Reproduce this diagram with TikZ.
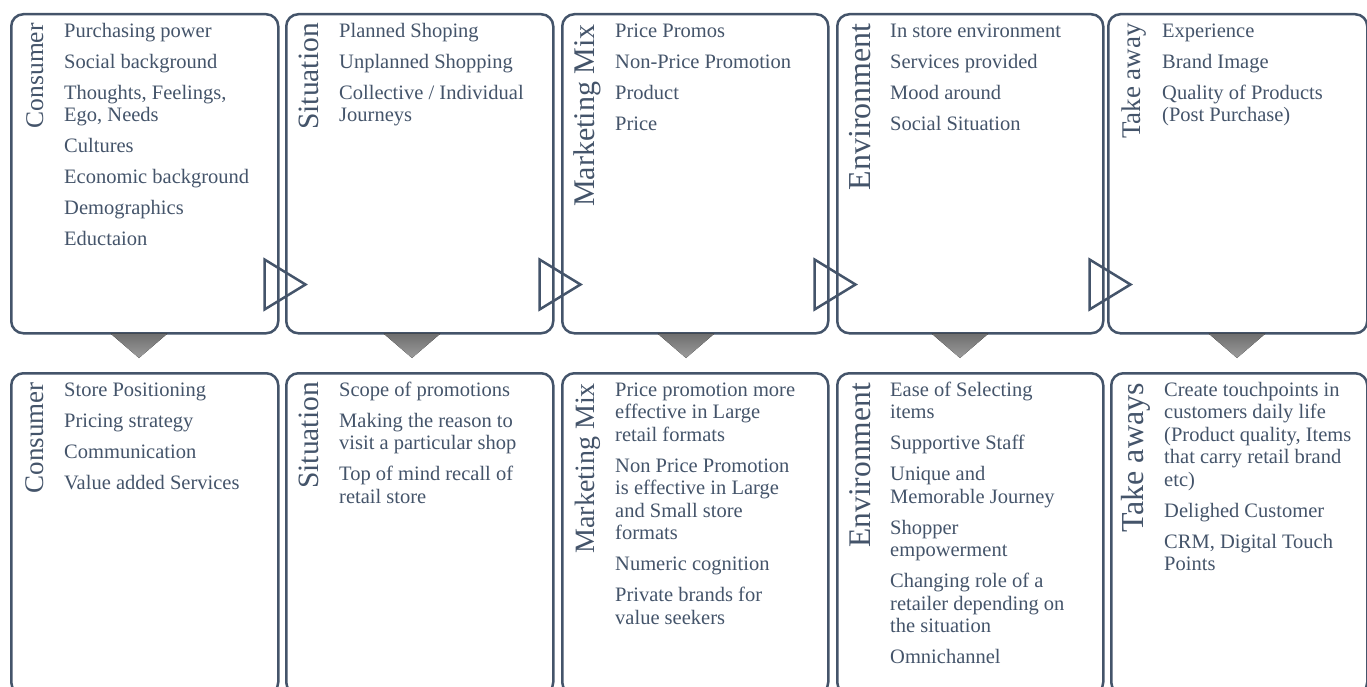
\documentclass[tikz,border=0pt]{standalone}
\usepackage{fontspec}
\setmainfont{Liberation Serif}
\usetikzlibrary{calc}
\definecolor{slate}{HTML}{44546A}
\definecolor{gtop}{HTML}{6E6E6E}
\definecolor{gbot}{HTML}{9C9C9C}
\newcommand{\fs}[1]{\fontsize{#1}{#1}\selectfont}
\newcommand{\st}{\rule{0pt}{16pt}}
\begin{document}
\begin{tikzpicture}[x=1pt,y=-1pt,
  box/.style={draw=slate, line width=2.5pt, rounded corners=12pt, fill=white, inner sep=0pt, anchor=north west},
  ttl/.style={rotate=90, anchor=base east, inner sep=0pt, text=slate},
  lst/.style={anchor=north west, inner sep=0pt, align=left, text=slate, font=\fontsize{20.5}{22.5}\selectfont},
  fwd/.style={draw=slate, line width=2.5pt, line join=miter},
  down/.style={top color=gtop, bottom color=gbot, draw=none}]
\useasboundingbox (0,0) rectangle (1367,687);
\clip (0,0) rectangle (1367,687);
% top boxes
\node[box, minimum width=267pt, minimum height=319pt] (t1) at (10,13) {};
\node[box, minimum width=267pt, minimum height=319pt] (t2) at (285,13) {};
\node[box, minimum width=266pt, minimum height=319pt] (t3) at (561,13) {};
\node[box, minimum width=266pt, minimum height=319pt] (t4) at (836,13) {};
\node[box, minimum width=259pt, minimum height=319pt] (t5) at (1107,13) {};
% bottom boxes
\node[box, minimum width=267pt, minimum height=321pt] (b1) at (10,372) {};
\node[box, minimum width=267pt, minimum height=321pt] (b2) at (285,372) {};
\node[box, minimum width=266pt, minimum height=321pt] (b3) at (561,372) {};
\node[box, minimum width=266pt, minimum height=321pt] (b4) at (836,372) {};
\node[box, minimum width=256pt, minimum height=321pt] (b5) at (1110,372) {};
% forward triangles
\foreach \b in {t1,t2,t3,t4}{
  \draw[fwd] ($(\b.south east)+(-15,-75)$) coordinate (\b p1) -- ($(\b.south east)+(26,-50)$) coordinate (\b p2) -- ($(\b.south east)+(-15,-25)$) coordinate (\b p3) -- cycle;
}
% down triangles
\foreach \b/\cx in {t1/139,t2/412,t3/686,t4/960,t5/1237}{
  \fill[down] (\cx-28.5,333.5) coordinate (\b d1) -- (\cx+28.5,333.5) coordinate (\b d2) -- (\cx,358) coordinate (\b d3) -- cycle;
}
% titles top
\node[ttl, font=\fs{25.5}] (tt1) at ($(t1.north west)+(33,10)$) {Consumer};
\node[ttl, font=\fs{29.5}] (tt2) at ($(t2.north west)+(33,10)$) {Situation};
\node[ttl, font=\fs{30}] (tt3) at ($(t3.north west)+(33,11)$) {Marketing Mix};
\node[ttl, font=\fs{32}] (tt4) at ($(t4.north west)+(34,10)$) {Environment};
\node[ttl, font=\fs{27}] (tt5) at ($(t5.north west)+(33,10)$) {Take away};
% titles bottom
\node[ttl, font=\fs{27}] (bt1) at ($(b1.north west)+(33,10)$) {Consumer};
\node[ttl, font=\fs{29.5}] (bt2) at ($(b2.north west)+(33,10)$) {Situation};
\node[ttl, font=\fs{28}] (bt3) at ($(b3.north west)+(33,11)$) {Marketing Mix};
\node[ttl, font=\fs{31.5}] (bt4) at ($(b4.north west)+(34,11)$) {Environment};
\node[ttl, font=\fs{32}] (bt5) at ($(b5.north west)+(33,11)$) {Take aways};
% top lists
\node[lst] (tl1) at ($(t1.north west)+(54,8)$) {\st Purchasing power\\[8.5pt] Social background\\[8.5pt] Thoughts, Feelings,\\ Ego, Needs\\[8.5pt] Cultures\\[8.5pt] Economic background\\[8.5pt] Demographics\\[8.5pt] Eductaion};
\node[lst] (tl2) at ($(t2.north west)+(54,8)$) {\st Planned Shoping\\[8.5pt] Unplanned Shopping\\[8.5pt] Collective / Individual\\ Journeys};
\node[lst] (tl3) at ($(t3.north west)+(54,8)$) {\st Price Promos\\[8.5pt] Non-Price Promotion\\[8.5pt] Product\\[8.5pt] Price};
\node[lst] (tl4) at ($(t4.north west)+(54,8)$) {\st In store environment\\[8.5pt] Services provided\\[8.5pt] Mood around\\[8.5pt] Social Situation};
\node[lst] (tl5) at ($(t5.north west)+(55,8)$) {\st Experience\\[8.5pt] Brand Image\\[8.5pt] Quality of Products\\ (Post Purchase)};
% bottom lists
\node[lst] (bl1) at ($(b1.north west)+(54,8)$) {\st Store Positioning\\[8.5pt] Pricing strategy\\[8.5pt] Communication\\[8.5pt] Value added Services};
\node[lst] (bl2) at ($(b2.north west)+(54,8)$) {\st Scope of promotions\\[8.5pt] Making the reason to\\ visit a particular shop\\[8.5pt] Top of mind recall of\\ retail store};
\node[lst] (bl3) at ($(b3.north west)+(54,8)$) {\st Price promotion more\\ effective in Large\\ retail formats\\[8.5pt] Non Price Promotion\\ is effective in Large\\ and Small store\\ formats\\[8.5pt] Numeric cognition\\[8.5pt] Private brands for\\ value seekers};
\node[lst] (bl4) at ($(b4.north west)+(54,8)$) {\st Ease of Selecting\\ items\\[8.5pt] Supportive Staff\\[8.5pt] Unique and\\ Memorable Journey\\[8.5pt] Shopper\\ empowerment\\[8.5pt] Changing role of a\\ retailer depending on\\ the situation\\[8.5pt] Omnichannel};
\node[lst] (bl5) at ($(b5.north west)+(54,8)$) {\st Create touchpoints in\\ customers daily life\\ (Product quality, Items\\ that carry retail brand\\ etc)\\[8.5pt] Delighed Customer\\[8.5pt] CRM, Digital Touch\\ Points};
\end{tikzpicture}
\end{document}
